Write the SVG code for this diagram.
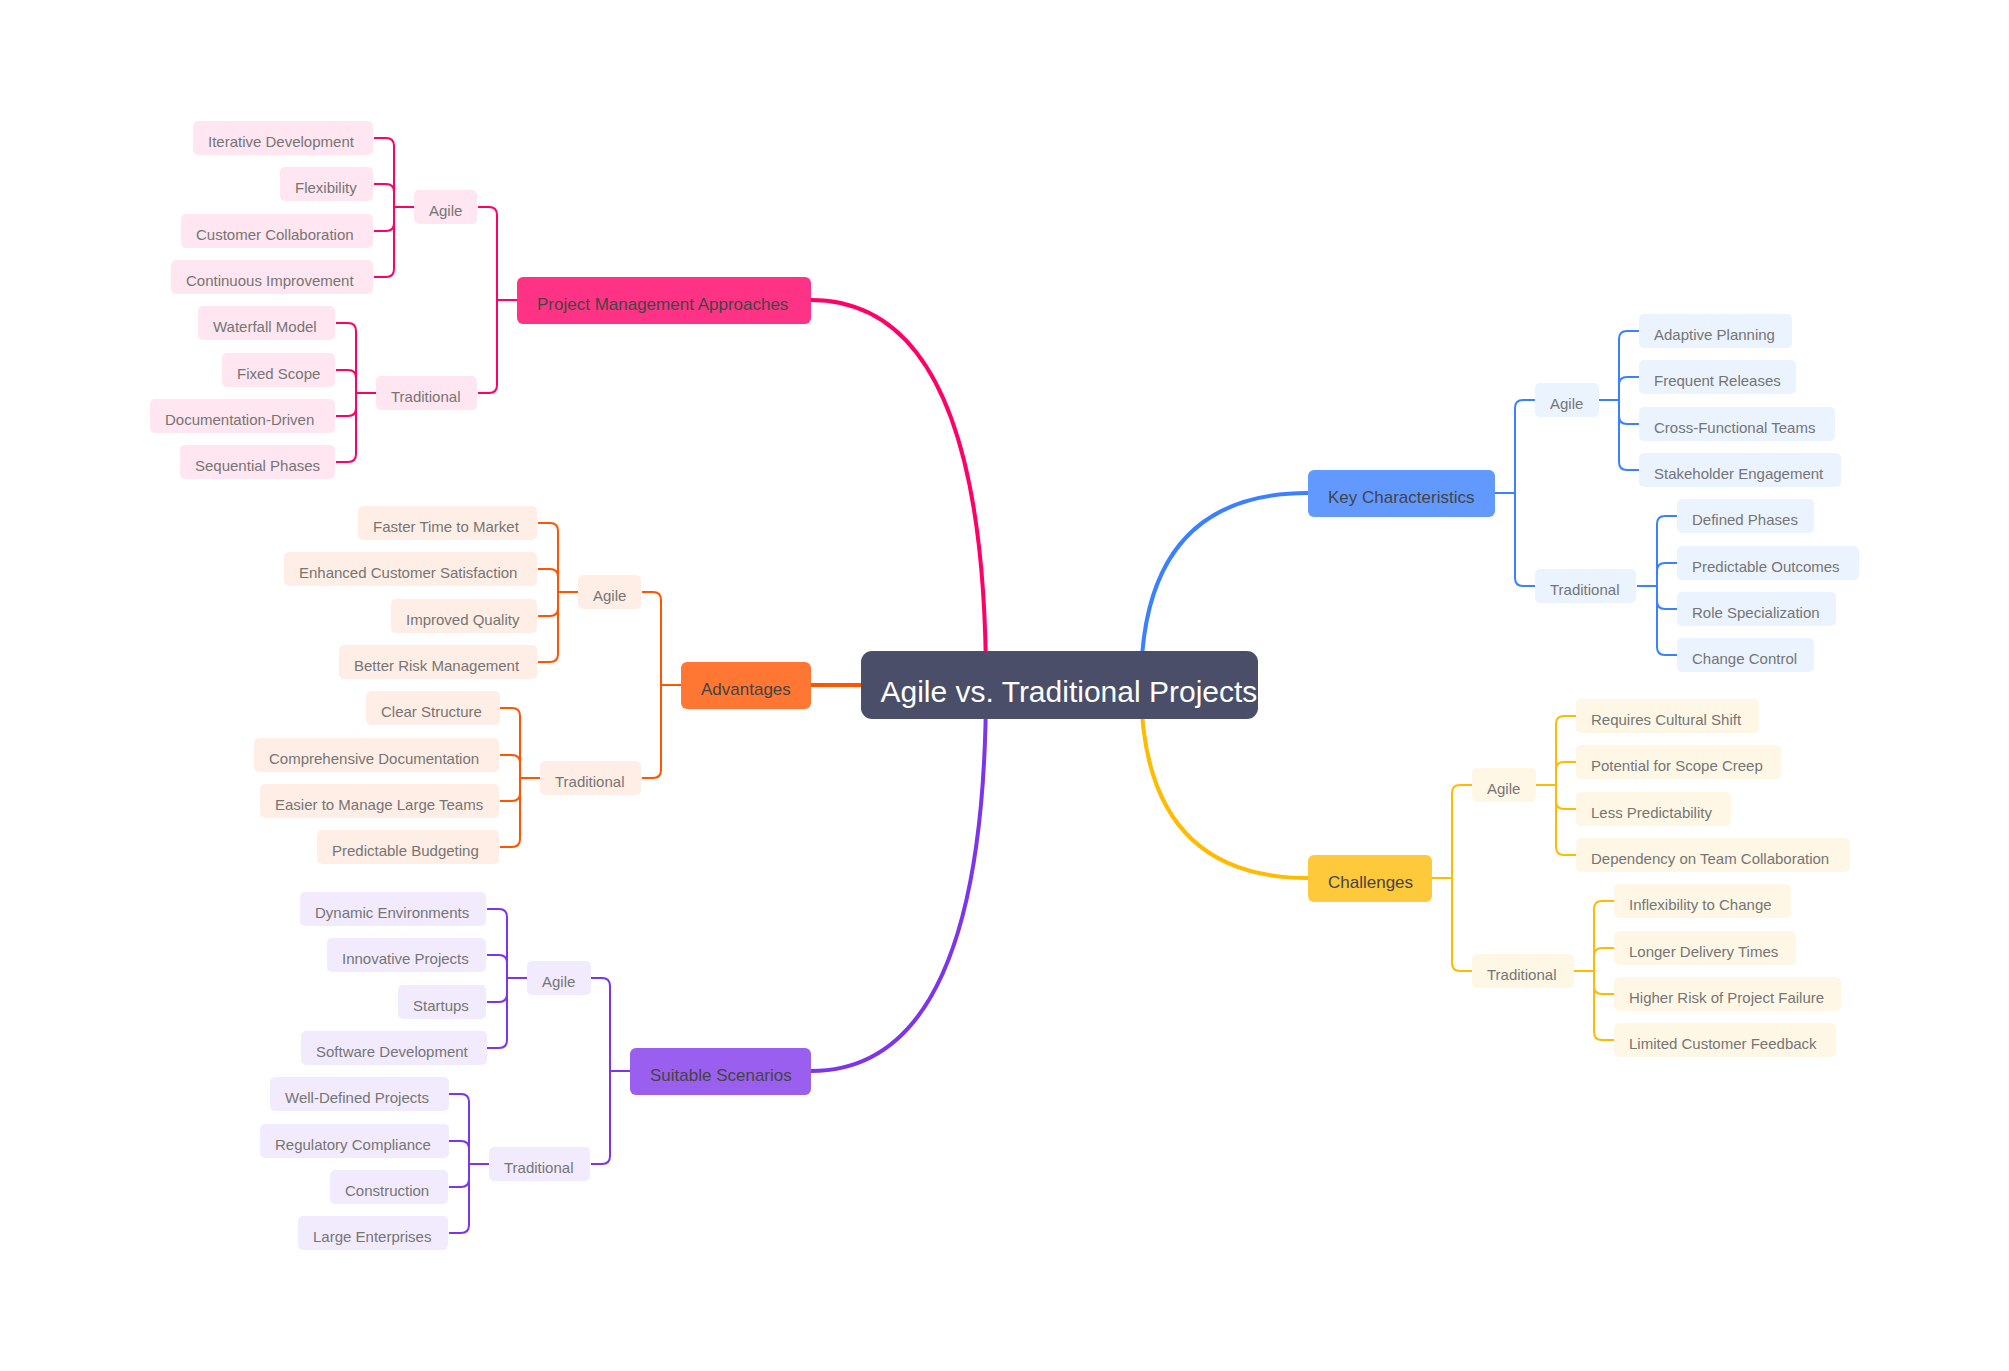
<svg xmlns="http://www.w3.org/2000/svg" width="2009" height="1371" viewBox="0 0 2009 1371">
<style>
text{font-family:"Liberation Sans",Arial,sans-serif}
.n text{font-size:15px;fill:#757575}
.n rect{rx:5px}
.b text{font-size:17px;fill:#444}
.b rect{rx:6px}
.r rect{fill:#4a4e69;rx:11px}
.r text{font-size:30px;fill:#fff}
path{fill:none;stroke-width:2}
.m{stroke-width:4}
.pink rect{fill:#ffe6f0}.pink.b rect{fill:#ff3385}.pink path{stroke:#f06}
.org rect{fill:#ffeee6}.org.b rect{fill:#ff7733}.org path{stroke:#f50}
.pur rect{fill:#f2ebfd}.pur.b rect{fill:#9b5ff0}.pur path{stroke:#7c35ea}
.blu rect{fill:#ebf3ff}.blu.b rect{fill:#6199ff}.blu path{stroke:#3a80ff}
.yel rect{fill:#fff7e6}.yel.b rect{fill:#ffc93c}.yel path{stroke:#fb0}
</style>
<rect width="2009" height="1371" fill="#fff"/>
<g id="connectors">
<g class="pink"><path class="m" d="M811 300Q986 300 986 685"/>
<path d="M517 300H497V215Q497 207 489 207H478M497 300V385Q497 393 489 393H478M414 207H394M394 207V146Q394 138 386 138H374M394 207V192Q394 184 386 184H374M394 207V223Q394 231 386 231H374M394 207V269Q394 277 386 277H374M376 393H356M356 393V331Q356 323 348 323H336M356 393V378Q356 370 348 370H336M356 393V408Q356 416 348 416H336M356 393V454Q356 462 348 462H336"/></g>
<g class="org"><path class="m" d="M811 685H861"/>
<path d="M681 685H661V600Q661 592 653 592H642M661 685V770Q661 778 653 778H642M578 592H558M558 592V531Q558 523 550 523H538M558 592V577Q558 569 550 569H538M558 592V608Q558 616 550 616H538M558 592V654Q558 662 550 662H538M540 778H520M520 778V716Q520 708 512 708H500M520 778V763Q520 755 512 755H500M520 778V793Q520 801 512 801H500M520 778V839Q520 847 512 847H500"/></g>
<g class="pur"><path class="m" d="M811 1071Q986 1071 986 685"/>
<path d="M630 1071H610V986Q610 978 602 978H591M610 1071V1156Q610 1164 602 1164H591M527 978H507M507 978V917Q507 909 499 909H487M507 978V963Q507 955 499 955H487M507 978V994Q507 1002 499 1002H487M507 978V1040Q507 1048 499 1048H487M489 1164H469M469 1164V1102Q469 1094 461 1094H449M469 1164V1149Q469 1141 461 1141H449M469 1164V1179Q469 1187 461 1187H449M469 1164V1225Q469 1233 461 1233H449"/></g>
<g class="blu"><path class="m" d="M1308 493Q1141 493 1141 685"/>
<path d="M1495 493H1515V408Q1515 400 1523 400H1535M1515 493V578Q1515 586 1523 586H1535M1599 400H1619M1619 400V339Q1619 331 1627 331H1639M1619 400V385Q1619 377 1627 377H1639M1619 400V416Q1619 424 1627 424H1639M1619 400V462Q1619 470 1627 470H1639M1637 586H1657M1657 586V524Q1657 516 1665 516H1677M1657 586V571Q1657 563 1665 563H1677M1657 586V601Q1657 609 1665 609H1677M1657 586V647Q1657 655 1665 655H1677"/></g>
<g class="yel"><path class="m" d="M1308 878Q1141 878 1141 685"/>
<path d="M1432 878H1452V793Q1452 785 1460 785H1472M1452 878V963Q1452 971 1460 971H1472M1536 785H1556M1556 785V724Q1556 716 1564 716H1576M1556 785V770Q1556 762 1564 762H1576M1556 785V801Q1556 809 1564 809H1576M1556 785V847Q1556 855 1564 855H1576M1574 971H1594M1594 971V909Q1594 901 1602 901H1614M1594 971V956Q1594 948 1602 948H1614M1594 971V986Q1594 994 1602 994H1614M1594 971V1032Q1594 1040 1602 1040H1614"/></g>
</g>
<g id="root" class="r"><rect x="861" y="651" width="397" height="68"/><text x="880.5" y="702">Agile vs. Traditional Projects</text></g>

<g id="pm" class="b pink"><rect x="517" y="277" width="294" height="47"/><text x="537" y="310">Project Management Approaches</text></g>
<g id="pm-agile" class="n pink"><rect x="414" y="190" width="63" height="34"/><text x="429" y="216">Agile</text></g>
<g id="pm-trad" class="n pink"><rect x="376" y="376" width="101" height="34"/><text x="391" y="402">Traditional</text></g>
<g id="pm-a1" class="n pink"><rect x="193" y="121" width="180" height="34"/><text x="208" y="147">Iterative Development</text></g>
<g id="pm-a2" class="n pink"><rect x="280" y="167" width="93" height="34"/><text x="295" y="193">Flexibility</text></g>
<g id="pm-a3" class="n pink"><rect x="181" y="214" width="192" height="34"/><text x="196" y="240">Customer Collaboration</text></g>
<g id="pm-a4" class="n pink"><rect x="171" y="260" width="202" height="34"/><text x="186" y="286">Continuous Improvement</text></g>
<g id="pm-t1" class="n pink"><rect x="198" y="306" width="137" height="34"/><text x="213" y="332">Waterfall Model</text></g>
<g id="pm-t2" class="n pink"><rect x="222" y="353" width="113" height="34"/><text x="237" y="379">Fixed Scope</text></g>
<g id="pm-t3" class="n pink"><rect x="150" y="399" width="185" height="34"/><text x="165" y="425">Documentation-Driven</text></g>
<g id="pm-t4" class="n pink"><rect x="180" y="445" width="155" height="34"/><text x="195" y="471">Sequential Phases</text></g>

<g id="adv" class="b org"><rect x="681" y="662" width="130" height="47"/><text x="701" y="695">Advantages</text></g>
<g id="adv-agile" class="n org"><rect x="578" y="575" width="63" height="34"/><text x="593" y="601">Agile</text></g>
<g id="adv-trad" class="n org"><rect x="540" y="761" width="101" height="34"/><text x="555" y="787">Traditional</text></g>
<g id="adv-a1" class="n org"><rect x="358" y="506" width="179" height="34"/><text x="373" y="532">Faster Time to Market</text></g>
<g id="adv-a2" class="n org"><rect x="284" y="552" width="253" height="34"/><text x="299" y="578">Enhanced Customer Satisfaction</text></g>
<g id="adv-a3" class="n org"><rect x="391" y="599" width="146" height="34"/><text x="406" y="625">Improved Quality</text></g>
<g id="adv-a4" class="n org"><rect x="339" y="645" width="198" height="34"/><text x="354" y="671">Better Risk Management</text></g>
<g id="adv-t1" class="n org"><rect x="366" y="691" width="134" height="34"/><text x="381" y="717">Clear Structure</text></g>
<g id="adv-t2" class="n org"><rect x="254" y="738" width="245" height="34"/><text x="269" y="764">Comprehensive Documentation</text></g>
<g id="adv-t3" class="n org"><rect x="260" y="784" width="239" height="34"/><text x="275" y="810">Easier to Manage Large Teams</text></g>
<g id="adv-t4" class="n org"><rect x="317" y="830" width="182" height="34"/><text x="332" y="856">Predictable Budgeting</text></g>

<g id="sc" class="b pur"><rect x="630" y="1048" width="181" height="47"/><text x="650" y="1081">Suitable Scenarios</text></g>
<g id="sc-agile" class="n pur"><rect x="527" y="961" width="64" height="34"/><text x="542" y="987">Agile</text></g>
<g id="sc-trad" class="n pur"><rect x="489" y="1147" width="101" height="34"/><text x="504" y="1173">Traditional</text></g>
<g id="sc-a1" class="n pur"><rect x="300" y="892" width="186" height="34"/><text x="315" y="918">Dynamic Environments</text></g>
<g id="sc-a2" class="n pur"><rect x="327" y="938" width="159" height="34"/><text x="342" y="964">Innovative Projects</text></g>
<g id="sc-a3" class="n pur"><rect x="398" y="985" width="88" height="34"/><text x="413" y="1011">Startups</text></g>
<g id="sc-a4" class="n pur"><rect x="301" y="1031" width="186" height="34"/><text x="316" y="1057">Software Development</text></g>
<g id="sc-t1" class="n pur"><rect x="270" y="1077" width="179" height="34"/><text x="285" y="1103">Well-Defined Projects</text></g>
<g id="sc-t2" class="n pur"><rect x="260" y="1124" width="189" height="34"/><text x="275" y="1150">Regulatory Compliance</text></g>
<g id="sc-t3" class="n pur"><rect x="330" y="1170" width="118" height="34"/><text x="345" y="1196">Construction</text></g>
<g id="sc-t4" class="n pur"><rect x="298" y="1216" width="150" height="34"/><text x="313" y="1242">Large Enterprises</text></g>

<g id="key" class="b blu"><rect x="1308" y="470" width="187" height="47"/><text x="1328" y="503">Key Characteristics</text></g>
<g id="key-agile" class="n blu"><rect x="1535" y="383" width="64" height="34"/><text x="1550" y="409">Agile</text></g>
<g id="key-trad" class="n blu"><rect x="1535" y="569" width="101" height="34"/><text x="1550" y="595">Traditional</text></g>
<g id="key-a1" class="n blu"><rect x="1639" y="314" width="153" height="34"/><text x="1654" y="340">Adaptive Planning</text></g>
<g id="key-a2" class="n blu"><rect x="1639" y="360" width="157" height="34"/><text x="1654" y="386">Frequent Releases</text></g>
<g id="key-a3" class="n blu"><rect x="1639" y="407" width="196" height="34"/><text x="1654" y="433">Cross-Functional Teams</text></g>
<g id="key-a4" class="n blu"><rect x="1639" y="453" width="202" height="34"/><text x="1654" y="479">Stakeholder Engagement</text></g>
<g id="key-t1" class="n blu"><rect x="1677" y="499" width="137" height="34"/><text x="1692" y="525">Defined Phases</text></g>
<g id="key-t2" class="n blu"><rect x="1677" y="546" width="182" height="34"/><text x="1692" y="572">Predictable Outcomes</text></g>
<g id="key-t3" class="n blu"><rect x="1677" y="592" width="159" height="34"/><text x="1692" y="618">Role Specialization</text></g>
<g id="key-t4" class="n blu"><rect x="1677" y="638" width="137" height="34"/><text x="1692" y="664">Change Control</text></g>

<g id="ch" class="b yel"><rect x="1308" y="855" width="124" height="47"/><text x="1328" y="888">Challenges</text></g>
<g id="ch-agile" class="n yel"><rect x="1472" y="768" width="64" height="34"/><text x="1487" y="794">Agile</text></g>
<g id="ch-trad" class="n yel"><rect x="1472" y="954" width="102" height="34"/><text x="1487" y="980">Traditional</text></g>
<g id="ch-a1" class="n yel"><rect x="1576" y="699" width="183" height="34"/><text x="1591" y="725">Requires Cultural Shift</text></g>
<g id="ch-a2" class="n yel"><rect x="1576" y="745" width="205" height="34"/><text x="1591" y="771">Potential for Scope Creep</text></g>
<g id="ch-a3" class="n yel"><rect x="1576" y="792" width="155" height="34"/><text x="1591" y="818">Less Predictability</text></g>
<g id="ch-a4" class="n yel"><rect x="1576" y="838" width="274" height="34"/><text x="1591" y="864">Dependency on Team Collaboration</text></g>
<g id="ch-t1" class="n yel"><rect x="1614" y="884" width="177" height="34"/><text x="1629" y="910">Inflexibility to Change</text></g>
<g id="ch-t2" class="n yel"><rect x="1614" y="931" width="182" height="34"/><text x="1629" y="957">Longer Delivery Times</text></g>
<g id="ch-t3" class="n yel"><rect x="1614" y="977" width="227" height="34"/><text x="1629" y="1003">Higher Risk of Project Failure</text></g>
<g id="ch-t4" class="n yel"><rect x="1614" y="1023" width="222" height="34"/><text x="1629" y="1049">Limited Customer Feedback</text></g>
</svg>
